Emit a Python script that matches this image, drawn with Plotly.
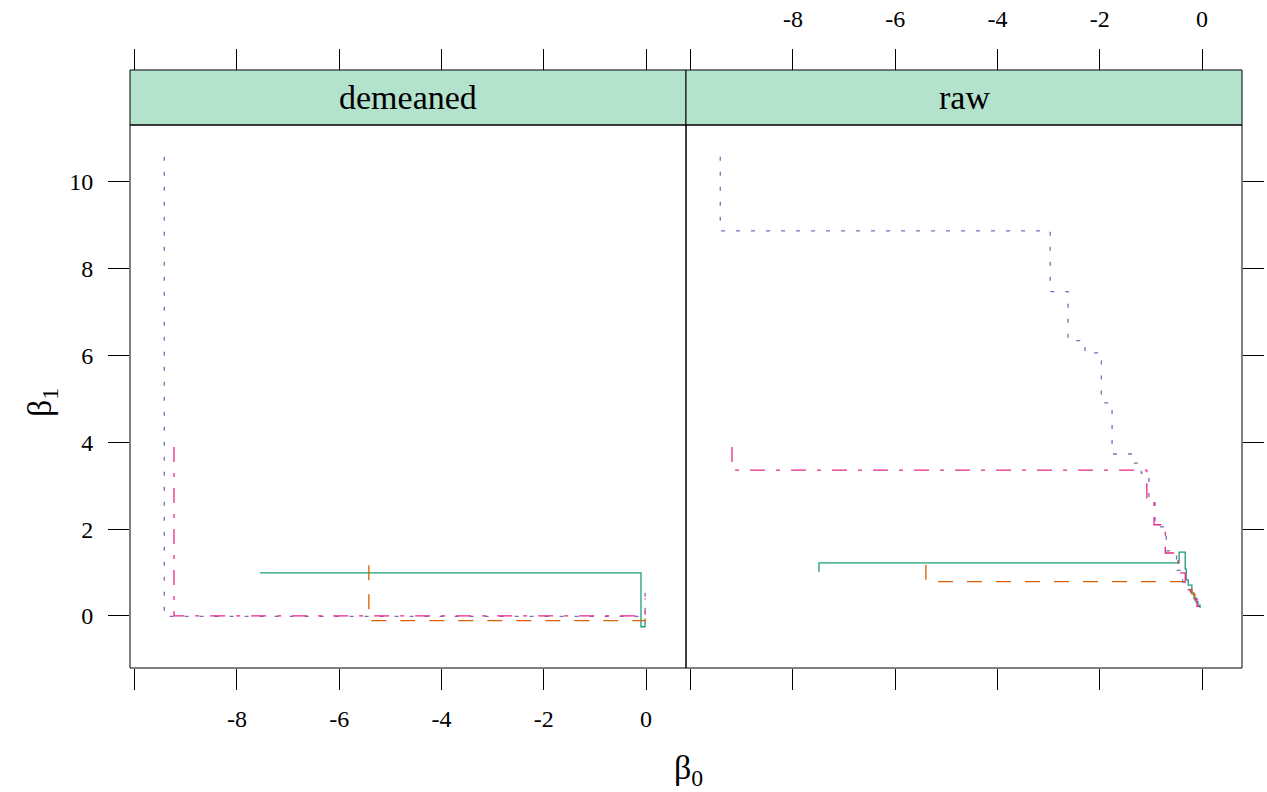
import plotly.graph_objects as go

# ---------------- data (beta0, beta1) coordinate-descent style paths ----------------
panels = ["demeaned", "raw"]

# demeaned panel
dm_green_b0 = [-7.53, -0.10, -0.02, -0.02]
dm_green_b1 = [1.01, 0.99, -0.25, -0.08]
dm_orange_b0 = [-5.42, -0.02, -0.02]
dm_orange_b1 = [1.17, -0.11, 0.00]
dm_purple_b0 = [-9.42, -0.02, -0.02]
dm_purple_b1 = [10.58, -0.01, 0.76]
dm_pink_b0 = [-9.23, -0.02, -0.02]
dm_pink_b1 = [3.89, 0.00, 0.40]

# raw panel
raw_green_b0 = [-7.49, -0.45, -0.33, -0.31, -0.27, -0.20, -0.16, -0.12, -0.08, -0.04, -0.04]
raw_green_b1 = [1.01, 1.22, 1.47, 1.08, 0.83, 0.71, 0.53, 0.41, 0.32, 0.25, 0.18]
raw_orange_b0 = [-5.40, -0.27, -0.20, -0.14, -0.08, -0.02, -0.02]
raw_orange_b1 = [1.18, 0.79, 0.67, 0.50, 0.36, 0.25, 0.18]
raw_purple_b0 = [-9.42, -2.97, -2.62, -2.29, -1.97, -1.76, -1.35, -1.19, -1.04, -0.92,
                 -0.70, -0.50, -0.38, -0.27, -0.18, -0.10, -0.04]
raw_purple_b1 = [10.58, 8.87, 7.47, 6.34, 6.06, 4.91, 3.73, 3.52, 3.29, 2.72,
                 2.05, 1.50, 1.05, 0.78, 0.60, 0.40, 0.22]
raw_pink_b0 = [-9.19, -1.08, -0.94, -0.72, -0.47, -0.33, -0.23, -0.16, -0.10, -0.04]
raw_pink_b1 = [3.89, 3.36, 2.72, 2.10, 1.45, 0.99, 0.76, 0.55, 0.38, 0.22]

x_ticks = [-8, -6, -4, -2, 0]
x_ticklabels = ["-8", "-6", "-4", "-2", "0"]
x_extra_ticks = [-10]          # tick mark drawn without a label
y_ticks = [0, 2, 4, 6, 8, 10]
y_ticklabels = ["0", "2", "4", "6", "8", "10"]

x_range = [-10.09, 0.78]
y_range = [-1.2, 11.31]

# ---------------- styles ----------------
GREEN, ORANGE, PURPLE, PINK = "#1B9E77", "#D95F02", "#7570B3", "#E7298A"
STRIP = "#B3E2CD"
FONT = "Liberation Serif"
styles = {
    "green": dict(color=GREEN, dash="solid"),
    "orange": dict(color=ORANGE, dash="15px,14px"),
    "purple": dict(color=PURPLE, dash="4px,11px"),
    "pink": dict(color=PINK, dash="15px,11px,4px,11px"),
}

W, H = 1267, 792
L1, R1, R2 = 130, 686, 1242
TOP, BOT, STRIP_TOP = 125, 668, 70
TICKLEN = 21


def px(v):
    return v / W


def py(v):
    return 1 - v / H


fig = go.Figure()

series = [
    ("x", "y", dm_green_b0, dm_green_b1, "green"),
    ("x", "y", dm_orange_b0, dm_orange_b1, "orange"),
    ("x", "y", dm_purple_b0, dm_purple_b1, "purple"),
    ("x", "y", dm_pink_b0, dm_pink_b1, "pink"),
    ("x2", "y2", raw_green_b0, raw_green_b1, "green"),
    ("x2", "y2", raw_orange_b0, raw_orange_b1, "orange"),
    ("x2", "y2", raw_purple_b0, raw_purple_b1, "purple"),
    ("x2", "y2", raw_pink_b0, raw_pink_b1, "pink"),
]
for xa, ya, xs, ys, key in series:
    st = styles[key]
    fig.add_trace(go.Scatter(
        x=xs, y=ys, xaxis=xa, yaxis=ya, mode="lines",
        line=dict(color=st["color"], dash=st["dash"], width=1.3, shape="vh"),
        showlegend=False, hoverinfo="skip"))

tickfont = dict(family=FONT, size=24, color="black")
common_x = dict(range=x_range, tickvals=x_ticks, ticktext=x_ticklabels, ticks="outside",
                ticklen=TICKLEN, tickwidth=1, tickcolor="black", showgrid=False, zeroline=False,
                showline=False, tickfont=tickfont, ticklabelstandoff=8, automargin=False,
                minor=dict(tickvals=x_extra_ticks, ticks="outside", ticklen=TICKLEN,
                           tickwidth=1, tickcolor="black", showgrid=False))
common_y = dict(range=y_range, tickvals=y_ticks, ticktext=y_ticklabels, ticks="outside",
                ticklen=TICKLEN, tickwidth=1, tickcolor="black", showgrid=False, zeroline=False,
                showline=False, tickfont=tickfont, ticklabelstandoff=10, automargin=False,
                domain=[py(BOT), py(TOP)])

fig.update_layout(
    width=W, height=H, margin=dict(l=0, r=0, t=0, b=0),
    paper_bgcolor="white", plot_bgcolor="rgba(0,0,0,0)",
    xaxis=dict(domain=[px(L1), px(R1)], anchor="y", side="bottom", **common_x),
    xaxis2=dict(domain=[px(R1), px(R2)], anchor="y2", side="bottom",
                **{**common_x, "showticklabels": False}),
    xaxis3=dict(overlaying="x", anchor="free", position=py(STRIP_TOP), side="top",
                **{**common_x, "showticklabels": False}),
    xaxis4=dict(overlaying="x2", anchor="free", position=py(STRIP_TOP), side="top",
                **{**common_x, "ticklabelstandoff": 12}),
    yaxis=dict(anchor="x", side="left", **common_y),
    yaxis2=dict(anchor="x2", side="right", **{**common_y, "showticklabels": False}),
)

# invisible traces so top axes are drawn
fig.add_trace(go.Scatter(x=[x_range[0]], y=[y_range[0]], xaxis="x3", yaxis="y", mode="markers",
                         marker=dict(opacity=0), showlegend=False, hoverinfo="skip"))
fig.add_trace(go.Scatter(x=[x_range[0]], y=[y_range[0]], xaxis="x4", yaxis="y2", mode="markers",
                         marker=dict(opacity=0), showlegend=False, hoverinfo="skip"))

shapes = []
for (x0, x1), name in zip([(L1, R1), (R1, R2)], panels):
    shapes.append(dict(type="rect", xref="paper", yref="paper", x0=px(x0), x1=px(x1),
                       y0=py(TOP), y1=py(STRIP_TOP), fillcolor=STRIP,
                       line=dict(color="black", width=1), layer="below"))
    shapes.append(dict(type="rect", xref="paper", yref="paper", x0=px(x0), x1=px(x1),
                       y0=py(BOT), y1=py(TOP), line=dict(color="black", width=1)))
fig.update_layout(shapes=shapes)

ann = []
for (x0, x1), name in zip([(L1, R1), (R1, R2)], panels):
    ann.append(dict(text=name, xref="paper", yref="paper", x=px((x0 + x1) / 2),
                    y=py((TOP + STRIP_TOP) / 2), showarrow=False,
                    font=dict(family=FONT, size=34, color="black"),
                    xanchor="center", yanchor="middle"))
ann.append(dict(text="β<sub>0</sub>", xref="paper", yref="paper", x=px(688), y=py(770),
                showarrow=False, font=dict(family=FONT, size=34, color="black"),
                xanchor="center", yanchor="middle"))
ann.append(dict(text="β<sub>1</sub>", xref="paper", yref="paper", x=px(42), y=py(403),
                showarrow=False, textangle=-90, font=dict(family=FONT, size=34, color="black"),
                xanchor="center", yanchor="middle"))
fig.update_layout(annotations=ann)

fig.write_html("out.html")
